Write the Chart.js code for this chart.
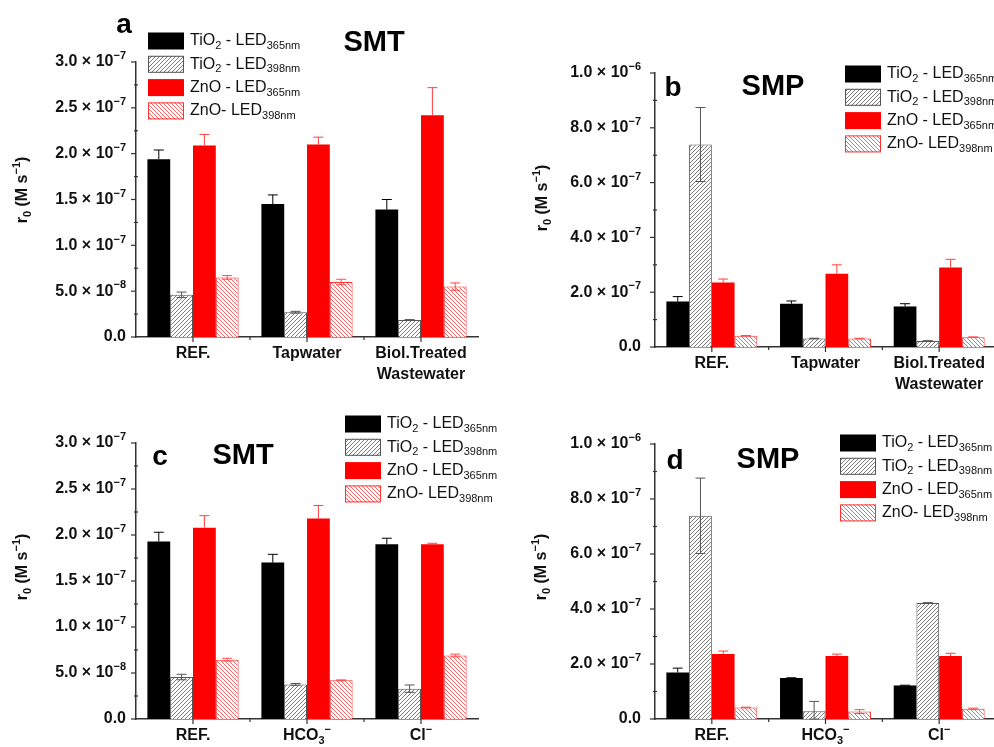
<!DOCTYPE html>
<html>
<head>
<meta charset="utf-8">
<script src="https://cdn.jsdelivr.net/npm/chart.js@4.4.1/dist/chart.umd.min.js"></script>
<style>
  html, body { margin: 0; padding: 0; background: #fff; overflow: hidden; width: 994px; height: 747px; }
  canvas { position: absolute; }
</style>
</head>
<body>
<canvas id="pa" width="510" height="380" style="left:0;top:0"></canvas>
<canvas id="pc" width="510" height="367" style="left:0;top:380px"></canvas>
<canvas id="pb" width="502" height="400" style="left:497px;top:0"></canvas>
<canvas id="pd" width="502" height="367" style="left:497px;top:380px"></canvas>
<script>
// ---- data ----
const seriesNames = ['TiO₂ - LED₃₆₅ₙₘ', 'TiO₂ - LED₃₉₈ₙₘ', 'ZnO - LED₃₆₅ₙₘ', 'ZnO- LED₃₉₈ₙₘ'];
const matrixGroups = ['REF.', 'Tapwater', ['Biol.Treated', 'Wastewater']];
const anionGroups = ['REF.', 'HCO₃⁻', 'Cl⁻'];

const yTicksSMT = ['0.0', '5.0 × 10⁻⁸', '1.0 × 10⁻⁷', '1.5 × 10⁻⁷', '2.0 × 10⁻⁷', '2.5 × 10⁻⁷', '3.0 × 10⁻⁷'];
const yTicksSMP = ['0.0', '2.0 × 10⁻⁷', '4.0 × 10⁻⁷', '6.0 × 10⁻⁷', '8.0 × 10⁻⁷', '1.0 × 10⁻⁶'];

// (a) SMT, water matrices
const smtMatrixTiO365 = [1.94e-7, 1.45e-7, 1.39e-7];
const smtMatrixTiO398 = [0.46e-7, 0.27e-7, 0.185e-7];
const smtMatrixZnO365 = [2.09e-7, 2.10e-7, 2.42e-7];
const smtMatrixZnO398 = [0.65e-7, 0.60e-7, 0.55e-7];
const smtMatrixErrTiO365 = [0.10e-7, 0.10e-7, 0.11e-7];
const smtMatrixErrTiO398 = [0.03e-7, 0.01e-7, 0.005e-7];
const smtMatrixErrZnO365 = [0.12e-7, 0.08e-7, 0.30e-7];
const smtMatrixErrZnO398 = [0.02e-7, 0.03e-7, 0.04e-7];

// (b) SMP, water matrices
const smpMatrixTiO365 = [1.66e-7, 1.58e-7, 1.48e-7];
const smpMatrixTiO398 = [7.39e-7, 0.31e-7, 0.22e-7];
const smpMatrixZnO365 = [2.35e-7, 2.67e-7, 2.90e-7];
const smpMatrixZnO398 = [0.41e-7, 0.31e-7, 0.36e-7];
const smpMatrixErrTiO365 = [0.18e-7, 0.10e-7, 0.10e-7];
const smpMatrixErrTiO398 = [1.35e-7, 0.01e-7, 0.01e-7];
const smpMatrixErrZnO365 = [0.13e-7, 0.33e-7, 0.30e-7];
const smpMatrixErrZnO398 = [0.01e-7, 0.01e-7, 0.01e-7];

// (c) SMT, anions
const smtAnionTiO365 = [1.93e-7, 1.70e-7, 1.90e-7];
const smtAnionTiO398 = [0.456e-7, 0.376e-7, 0.33e-7];
const smtAnionZnO365 = [2.08e-7, 2.18e-7, 1.90e-7];
const smtAnionZnO398 = [0.645e-7, 0.42e-7, 0.69e-7];
const smtAnionErrTiO365 = [0.10e-7, 0.09e-7, 0.065e-7];
const smtAnionErrTiO398 = [0.03e-7, 0.01e-7, 0.04e-7];
const smtAnionErrZnO365 = [0.13e-7, 0.14e-7, 0.01e-7];
const smtAnionErrZnO398 = [0.015e-7, 0.005e-7, 0.015e-7];

// (d) SMP, anions
const smpAnionTiO365 = [1.69e-7, 1.49e-7, 1.22e-7];
const smpAnionTiO398 = [7.39e-7, 0.28e-7, 4.22e-7];
const smpAnionZnO365 = [2.36e-7, 2.29e-7, 2.29e-7];
const smpAnionZnO398 = [0.42e-7, 0.27e-7, 0.375e-7];
const smpAnionErrTiO365 = [0.16e-7, 0.01e-7, 0.01e-7];
const smpAnionErrTiO398 = [1.37e-7, 0.36e-7, 0.01e-7];
const smpAnionErrZnO365 = [0.11e-7, 0.07e-7, 0.10e-7];
const smpAnionErrZnO398 = [0.01e-7, 0.07e-7, 0.02e-7];

// ---- helpers ----
const FONT = "'Liberation Sans', Arial, sans-serif";
const SUB = {'₀':'0','₁':'1','₂':'2','₃':'3','₄':'4','₅':'5','₆':'6','₇':'7','₈':'8','₉':'9','ₙ':'n','ₘ':'m'};
const SUP = {'⁰':'0','¹':'1','²':'2','³':'3','⁴':'4','⁵':'5','⁶':'6','⁷':'7','⁸':'8','⁹':'9','⁻':'−'};

function parts(str) {
  const out = [];
  for (const ch of str) {
    let k = 'n', c = ch;
    if (SUB[ch]) { k = 'sub'; c = SUB[ch]; }
    else if (SUP[ch]) { k = 'sup'; c = SUP[ch]; }
    const last = out[out.length - 1];
    if (last && last.k === k) last.t += c; else out.push({ k: k, t: c });
  }
  return out;
}

function richText(ctx, str, x, y, size, weight, align, color) {
  const segs = parts(str);
  const small = Math.round(size * 0.7);
  let w = 0;
  segs.forEach(s => {
    ctx.font = weight + ' ' + (s.k === 'n' ? size : small) + 'px ' + FONT;
    s.w = ctx.measureText(s.t).width;
    w += s.w;
  });
  let cx = align === 'right' ? x - w : align === 'center' ? x - w / 2 : x;
  ctx.fillStyle = color;
  ctx.textBaseline = 'middle';
  ctx.textAlign = 'left';
  segs.forEach(s => {
    ctx.font = weight + ' ' + (s.k === 'n' ? size : small) + 'px ' + FONT;
    const dy = s.k === 'sub' ? size * 0.32 : s.k === 'sup' ? -size * 0.36 : 0;
    ctx.fillText(s.t, cx, y + dy);
    cx += s.w;
  });
}

function hatch(lineColor, dir) {
  const n = 4;
  const c = document.createElement('canvas');
  c.width = n; c.height = n;
  const g = c.getContext('2d');
  g.fillStyle = '#fff';
  g.fillRect(0, 0, n, n);
  g.strokeStyle = lineColor;
  g.lineWidth = 1;
  g.beginPath();
  if (dir === '/') {
    g.moveTo(-1, n + 1); g.lineTo(n + 1, -1);
    g.moveTo(-1, 1); g.lineTo(1, -1);
    g.moveTo(n - 1, n + 1); g.lineTo(n + 1, n - 1);
  } else {
    g.moveTo(-1, -1); g.lineTo(n + 1, n + 1);
    g.moveTo(n - 1, -1); g.lineTo(n + 1, 1);
    g.moveTo(-1, n - 1); g.lineTo(1, n + 1);
  }
  g.stroke();
  return g.createPattern(c, 'repeat');
}

const grayHatch = hatch('#7a7a7a', '/');
const redHatch = hatch('#f46666', '\\');

// solid bars hide the lower half of their error bar, so it is only drawn on hatched bars
const seriesStyle = [
  { bg: '#000000', border: '#000000', bw: 0, err: '#000000', lower: false },
  { bg: grayHatch, border: '#555555', bw: 1, err: '#555555', lower: true },
  { bg: '#ff0000', border: '#ff0000', bw: 0, err: '#ff4040', lower: false },
  { bg: redHatch, border: '#ff3030', bw: 1, err: '#ff4d4d', lower: true }
];

// per panel decoration positions (canvas coordinates)
const panelCfg = {
  pa: { letter: 'a', letterAt: [124, 25], title: 'SMT', titleAt: [374, 43], legendAt: [148, 41], yTitleAt: [23, 190], yTicks: yTicksSMT, gap: 10 },
  pb: { letter: 'b', letterAt: [176, 88], title: 'SMP', titleAt: [276, 87], legendAt: [348, 74], yTitleAt: [46, 198], yTicks: yTicksSMP, gap: 14 },
  pc: { letter: 'c', letterAt: [160, 77], title: 'SMT', titleAt: [243, 76], legendAt: [345, 44], yTitleAt: [23, 187], yTicks: yTicksSMT, gap: 10 },
  pd: { letter: 'd', letterAt: [178, 81], title: 'SMP', titleAt: [271, 80], legendAt: [343, 63], yTitleAt: [45, 187], yTicks: yTicksSMP, gap: 14 }
};

const decor = {
  id: 'decor',
  afterDatasetsDraw(chart) {
    const ctx = chart.ctx;
    const ys = chart.scales.y;
    ctx.save();
    chart.data.datasets.forEach((ds, i) => {
      const meta = chart.getDatasetMeta(i);
      meta.data.forEach((bar, j) => {
        const v = ds.data[j], e = ds.errorBars[j];
        const yt = ys.getPixelForValue(v + e);
        const yb = ds.errLower ? ys.getPixelForValue(Math.max(0, v - e)) : bar.y;
        ctx.strokeStyle = ds.errColor;
        ctx.lineWidth = 1;
        ctx.beginPath();
        ctx.moveTo(bar.x, yb); ctx.lineTo(bar.x, yt);
        ctx.moveTo(bar.x - 5, yt); ctx.lineTo(bar.x + 5, yt);
        if (ds.errLower) { ctx.moveTo(bar.x - 5, yb); ctx.lineTo(bar.x + 5, yb); }
        ctx.stroke();
      });
    });
    ctx.restore();
  },
  afterDraw(chart) {
    const cfg = panelCfg[chart.canvas.id];
    const ctx = chart.ctx;
    const ys = chart.scales.y, xs = chart.scales.x;
    const area = chart.chartArea;
    ctx.save();
    ctx.strokeStyle = '#333';
    ctx.lineWidth = 1.2;
    // y ticks, major and minor
    const tv = ys.ticks.map(t => t.value);
    tv.forEach((v, i) => {
      const y = ys.getPixelForValue(v);
      ctx.beginPath(); ctx.moveTo(area.left - 5, y); ctx.lineTo(area.left, y); ctx.stroke();
      richText(ctx, cfg.yTicks[i] || '', area.left - cfg.gap, y, 16, 'bold', 'right', '#111');
      if (i < tv.length - 1) {
        const ym = ys.getPixelForValue((v + tv[i + 1]) / 2);
        ctx.beginPath(); ctx.moveTo(area.left - 2, ym); ctx.lineTo(area.left + 2, ym); ctx.stroke();
      }
    });
    // x ticks and labels
    const labels = chart.data.labels;
    labels.forEach((lab, i) => {
      const x = xs.getPixelForTick(i);
      ctx.beginPath(); ctx.moveTo(x, area.bottom); ctx.lineTo(x, area.bottom + 5); ctx.stroke();
      if (i < labels.length - 1) {
        const xb = xs.getPixelForValue(i + 0.5);
        ctx.beginPath(); ctx.moveTo(xb, area.bottom); ctx.lineTo(xb, area.bottom + 3); ctx.stroke();
      }
      const lines = Array.isArray(lab) ? lab : [lab];
      lines.forEach((ln, k) => richText(ctx, ln, x, area.bottom + 17 + k * 21, 16, 'bold', 'center', '#111'));
    });
    // y title
    ctx.save();
    ctx.translate(cfg.yTitleAt[0], cfg.yTitleAt[1]);
    ctx.rotate(-Math.PI / 2);
    richText(ctx, 'r₀ (M s⁻¹)', 0, 0, 16, 'bold', 'center', '#111');
    ctx.restore();
    // panel letter and compound name
    richText(ctx, cfg.letter, cfg.letterAt[0], cfg.letterAt[1], 28, 'bold', 'center', '#000');
    richText(ctx, cfg.title, cfg.titleAt[0], cfg.titleAt[1], 29, 'bold', 'center', '#000');
    // legend
    chart.data.datasets.forEach((ds, i) => {
      const lx = cfg.legendAt[0], ly = cfg.legendAt[1] + i * 23.3;
      ctx.fillStyle = ds.backgroundColor;
      ctx.fillRect(lx, ly - 8.5, 36, 17);
      if (ds.borderWidth) {
        ctx.strokeStyle = ds.borderColor;
        ctx.lineWidth = 1;
        ctx.strokeRect(lx + 0.5, ly - 8, 35, 16);
      }
      richText(ctx, ds.label, lx + 42, ly, 16, 'normal', 'left', '#111');
    });
    ctx.restore();
  }
};

function buildChart(id, labels, series, errors, yMax, yStep, pad) {
  const datasets = series.map((vals, i) => ({
    label: seriesNames[i],
    data: vals,
    errorBars: errors[i],
    errColor: seriesStyle[i].err,
    errLower: seriesStyle[i].lower,
    backgroundColor: seriesStyle[i].bg,
    borderColor: seriesStyle[i].border,
    borderWidth: seriesStyle[i].bw,
    categoryPercentage: 0.8,
    barPercentage: 1.0
  }));
  const canvas = document.getElementById(id);
  return new Chart(canvas, {
    type: 'bar',
    data: { labels: labels, datasets: datasets },
    plugins: [decor],
    options: {
      responsive: false,
      animation: false,
      devicePixelRatio: 1,
      layout: { padding: { top: pad.top, right: canvas.width - pad.right, left: 0, bottom: 0 } },
      plugins: { legend: { display: false }, tooltip: { enabled: false } },
      scales: {
        x: {
          grid: { display: false },
          border: { display: true, color: '#333', width: 1.5 },
          ticks: { display: false },
          afterFit: s => { s.height = canvas.height - pad.bottom; }
        },
        y: {
          min: 0, max: yMax,
          grid: { display: false },
          border: { display: true, color: '#333', width: 1.5 },
          ticks: { display: false, stepSize: yStep },
          afterFit: s => { s.width = pad.left; }
        }
      }
    }
  });
}

// pad: left / top / right / bottom are the plot-area edges in canvas pixels
buildChart('pa', matrixGroups,
  [smtMatrixTiO365, smtMatrixTiO398, smtMatrixZnO365, smtMatrixZnO398],
  [smtMatrixErrTiO365, smtMatrixErrTiO398, smtMatrixErrZnO365, smtMatrixErrZnO398],
  3e-7, 0.5e-7, { left: 136, top: 62, right: 478, bottom: 337 });

buildChart('pb', matrixGroups,
  [smpMatrixTiO365, smpMatrixTiO398, smpMatrixZnO365, smpMatrixZnO398],
  [smpMatrixErrTiO365, smpMatrixErrTiO398, smpMatrixErrZnO365, smpMatrixErrZnO398],
  1e-6, 2e-7, { left: 158, top: 73, right: 499, bottom: 347 });

buildChart('pc', anionGroups,
  [smtAnionTiO365, smtAnionTiO398, smtAnionZnO365, smtAnionZnO398],
  [smtAnionErrTiO365, smtAnionErrTiO398, smtAnionErrZnO365, smtAnionErrZnO398],
  3e-7, 0.5e-7, { left: 136, top: 63, right: 478, bottom: 339 });

buildChart('pd', anionGroups,
  [smpAnionTiO365, smpAnionTiO398, smpAnionZnO365, smpAnionZnO398],
  [smpAnionErrTiO365, smpAnionErrTiO398, smpAnionErrZnO365, smpAnionErrZnO398],
  1e-6, 2e-7, { left: 158, top: 64, right: 499, bottom: 339 });
</script>
</body>
</html>
